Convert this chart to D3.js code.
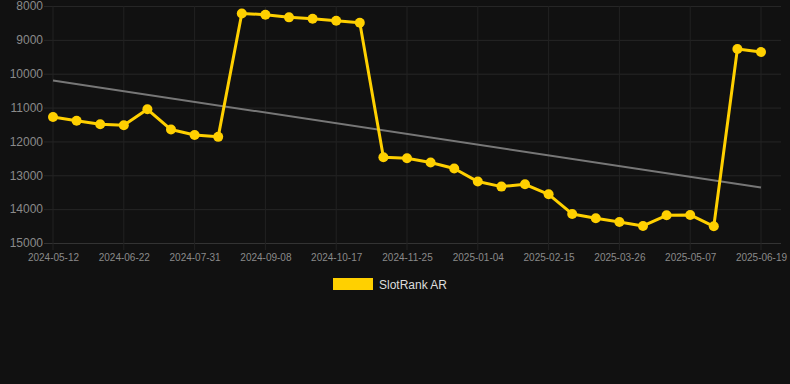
<!DOCTYPE html>
<html>
<head>
<meta charset="utf-8">
<script src="https://cdn.jsdelivr.net/npm/d3@7"></script>
<style>
  html, body { margin: 0; padding: 0; background: #111111; }
  svg { display: block; font-family: "Liberation Sans", Arial, sans-serif; }
</style>
</head>
<body>
<div id="chart"></div>
<script>
// x tick labels, one for every third point
const tickLabels = ["2024-05-12", "2024-06-22", "2024-07-31", "2024-09-08", "2024-10-17",
    "2024-11-25", "2025-01-04", "2025-02-15", "2025-03-26", "2025-05-07", "2025-06-19"];

// rank values, 31 points evenly spaced
const rankValues = [11280, 11390, 11490, 11520, 11050, 11650, 11810, 11865,
    8220, 8256, 8335, 8375, 8434, 8493,
    12466, 12496, 12624, 12801, 13186, 13334, 13265, 13561,
    14142, 14270, 14379, 14497, 14182, 14172, 14507, 9272, 9361];

// trend line at first and last point
const trendIndex = [0, 30];
const trendValues = [10200, 13360];

const yTicks = [8000, 9000, 10000, 11000, 12000, 13000, 14000, 15000];
const seriesName = "SlotRank AR";

const W = 790, H = 384;
const margin = {top: 6, right: 29, bottom: 141, left: 53};
const width = W - margin.left - margin.right,
    height = H - margin.top - margin.bottom;

const svg = d3.select("#chart").append("svg")
    .attr("width", W)
    .attr("height", H);

const g = svg.append("g")
    .attr("transform", `translate(${margin.left},${margin.top})`);

const x = d3.scaleLinear()
    .domain([0, rankValues.length - 1])
    .range([0, 708]);

const y = d3.scaleLinear()
    .domain([8000, 15000])
    .range([0, 237]);

// horizontal grid + y labels
const yAxis = g.append("g")
    .call(d3.axisLeft(y).tickValues(yTicks).tickSize(-(width + 20)).tickPadding(10).tickFormat(d3.format("d")));
yAxis.select(".domain").remove();
yAxis.selectAll(".tick line")
    .attr("x1", -9)
    .attr("stroke", (d, i) => d === 15000 ? "#333" : "#262626");
yAxis.selectAll(".tick text")
    .attr("fill", "#8a8a8a")
    .style("font-size", "12px");

// vertical grid + x labels
const xTickVals = d3.range(0, rankValues.length, 3);
const xAxis = g.append("g")
    .attr("transform", `translate(0,${height})`)
    .call(d3.axisBottom(x).tickValues(xTickVals).tickSize(0).tickPadding(11)
        .tickFormat(d => tickLabels[d / 3]));
xAxis.select(".domain").remove();
xAxis.selectAll(".tick text")
    .attr("fill", "#8a8a8a")
    .style("font-size", "10px");

g.append("g").selectAll("line")
    .data(xTickVals)
    .join("line")
    .attr("x1", d => x(d)).attr("x2", d => x(d))
    .attr("y1", 0).attr("y2", height + 7)
    .attr("stroke", "#222")
    .attr("stroke-width", 1);

// trend
g.append("line")
    .attr("x1", x(trendIndex[0])).attr("y1", y(trendValues[0]))
    .attr("x2", x(trendIndex[1])).attr("y2", y(trendValues[1]))
    .attr("stroke", "#777")
    .attr("stroke-width", 2);

const line = d3.line()
    .x((d, i) => x(i))
    .y(d => y(d));

g.append("path")
    .datum(rankValues)
    .attr("fill", "none")
    .attr("stroke", "#ffd000")
    .attr("stroke-width", 3)
    .attr("stroke-linejoin", "round")
    .attr("d", line);

g.selectAll("circle")
    .data(rankValues)
    .join("circle")
    .attr("cx", (d, i) => x(i))
    .attr("cy", d => y(d))
    .attr("r", 5)
    .attr("fill", "#ffd000");

// legend
const legend = svg.append("g")
    .attr("transform", "translate(333,278)");
legend.append("rect")
    .attr("width", 40)
    .attr("height", 12)
    .attr("fill", "#ffd000");
legend.append("text")
    .attr("x", 46)
    .attr("y", 10.5)
    .attr("fill", "#dddddd")
    .style("font-size", "12px")
    .text(seriesName);
</script>
</body>
</html>
